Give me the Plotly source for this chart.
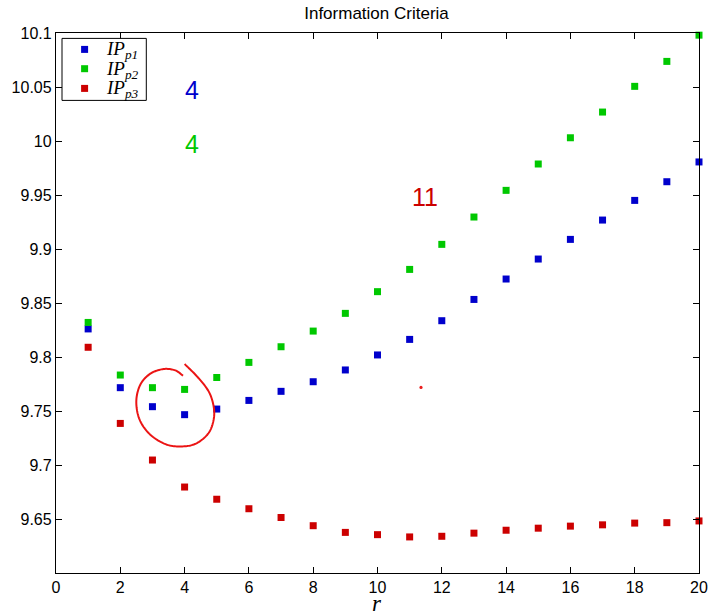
import numpy as np
import plotly.graph_objects as go

r = list(range(1, 21))
ip_p1 = [9.826, 9.7716, 9.754, 9.7466, 9.7518, 9.7598, 9.7682, 9.7771, 9.788, 9.8019,
         9.8163, 9.8336, 9.8533, 9.8722, 9.8907, 9.9089, 9.9268, 9.945, 9.9623, 9.9806]
ip_p2 = [9.832, 9.7833, 9.7716, 9.770, 9.781, 9.795, 9.8095, 9.824, 9.8404, 9.8605,
         9.8811, 9.9043, 9.9296, 9.9543, 9.9787, 10.003, 10.0268, 10.0506, 10.0737, 10.098]
ip_p3 = [9.809, 9.7385, 9.7046, 9.6796, 9.6683, 9.6595, 9.6514, 9.6438, 9.6376, 9.6355,
         9.6334, 9.634, 9.6369, 9.6396, 9.6415, 9.6434, 9.6446, 9.6462, 9.6466, 9.6482]

names = ["<i>IP<sub>p1</sub></i>", "<i>IP<sub>p2</sub></i>", "<i>IP<sub>p3</sub></i>"]
colors = ["#0000cc", "#00c800", "#cc0000"]

x_ticks = list(range(0, 21, 2))
y_ticks = [9.6, 9.65, 9.7, 9.75, 9.8, 9.85, 9.9, 9.95, 10.0, 10.05, 10.1]
y_ticktext = ["", "9.65", "9.7", "9.75", "9.8", "9.85", "9.9", "9.95", "10", "10.05", "10.1"]

# hand-drawn loop (screen-pixel points approximated from the reference)
loop_px = [(403, 103), (440, 140), (475, 185), (490, 230), (490, 270), (475, 310), (440, 340),
           (400, 350), (350, 345), (300, 315), (268, 270), (258, 215), (270, 165), (300, 132),
           (340, 118), (375, 122), (398, 138)]

W, H = 712, 615
SX0, SX1, SY0, SY1 = 55.7, 698.7, 33.3, 573.3
ML, MT = SX0, SY0
MR, MB = W - SX1, H - SY1
XR = (0, 20)
YR = (9.6, 10.1)
pw, ph = SX1 - SX0, SY1 - SY0


def px2data(px, py):
    x = XR[0] + (px - SX0) / pw * (XR[1] - XR[0])
    y = YR[1] - (py - SY0) / ph * (YR[1] - YR[0])
    return x, y


def px2paper(px, py):
    return (px - SX0) / pw, 1 - (py - SY0) / ph


def catmull(pts, n=12):
    pts = np.array(pts, float)
    P = np.vstack([pts[0], pts, pts[-1]])
    out = []
    for i in range(1, len(P) - 2):
        p0, p1, p2, p3 = P[i - 1], P[i], P[i + 1], P[i + 2]
        for t in np.linspace(0, 1, n, endpoint=False):
            t2, t3 = t * t, t * t * t
            out.append(0.5 * ((2 * p1) + (-p0 + p2) * t + (2 * p0 - 5 * p1 + 4 * p2 - p3) * t2
                              + (-p0 + 3 * p1 - 3 * p2 + p3) * t3))
    out.append(P[-2])
    return out


fig = go.Figure()
for name, vals, c in zip(names, [ip_p1, ip_p2, ip_p3], colors):
    fig.add_trace(go.Scatter(x=r, y=vals, mode="markers", name=name,
                             marker=dict(symbol="square", size=7, color=c),
                             cliponaxis=False, showlegend=False))

pts = [(50 + zx / 3, 330 + zy / 3) for zx, zy in loop_px]
dense = catmull(pts)
path = ""
for i, (px, py) in enumerate(dense):
    x, y = px2data(px, py)
    path += ("M" if i == 0 else "L") + f"{x:.4f},{y:.5f} "
fig.add_shape(type="path", path=path, xref="x", yref="y",
              line=dict(color="rgb(235,20,20)", width=2))

# small red speck
dx, dy = px2data(420.7, 387.7)
fig.add_shape(type="circle", xref="x", yref="y", xsizemode="pixel", ysizemode="pixel",
              xanchor=dx, yanchor=dy, x0=-1.6, x1=1.6, y0=-1.6, y1=1.6,
              fillcolor="rgb(235,30,30)", line=dict(width=0))

sans = "Liberation Sans, Arial, sans-serif"
serif = "Liberation Serif, Times New Roman, serif"
for txt, (px, py), c in [("4", (192, 88), colors[0]), ("4", (192, 142.5), colors[1]),
                         ("11", (424.2, 195), colors[2])]:
    x, y = px2data(px, py)
    fig.add_annotation(x=x, y=y, xref="x", yref="y", text=txt, showarrow=False,
                       font=dict(family=sans, size=25, color=c), yshift=-2)

# legend box (drawn manually to match the reference spacing)
bx0, by0 = px2paper(61.7, 38.7)
bx1, by1 = px2paper(146, 100.7)
fig.add_shape(type="rect", xref="paper", yref="paper", x0=bx0, x1=bx1, y0=by1, y1=by0,
              line=dict(color="black", width=1), fillcolor="white", layer="above")
for name, c, ry in zip(names, colors, [49.7, 69.0, 88.7]):
    mx, my = px2paper(84.3, ry)
    fig.add_shape(type="rect", xref="paper", yref="paper", xsizemode="pixel", ysizemode="pixel",
                  xanchor=mx, yanchor=my, x0=-3.5, x1=3.5, y0=-3.5, y1=3.5,
                  fillcolor=c, line=dict(width=0), layer="above")
    tx, ty = px2paper(103.5, ry + 1)
    fig.add_annotation(x=tx, y=ty, xref="paper", yref="paper", text=name, showarrow=False,
                       xanchor="left", yanchor="middle",
                       font=dict(family=serif, size=19, color="black"))

ax, ay = px2paper(377, 604)
fig.add_annotation(x=ax, y=ay, xref="paper", yref="paper", text="<i>r</i>", showarrow=False,
                   yanchor="middle", font=dict(family=serif, size=23, color="black"))

axis_common = dict(showline=True, linecolor="black", linewidth=1.3, mirror="ticks",
                   ticks="inside", ticklen=6, tickcolor="black", tickwidth=1,
                   showgrid=False, zeroline=False,
                   tickfont=dict(family=sans, size=16, color="black"))

fig.update_layout(
    width=W, height=H,
    margin=dict(l=ML, r=MR, t=MT, b=MB, autoexpand=False),
    paper_bgcolor="white", plot_bgcolor="white",
    title=dict(text="Information Criteria", x=376.5 / W, xref="container",
               y=1 - 13.5 / H, yref="container", yanchor="middle", xanchor="center",
               font=dict(family=sans, size=17, color="black")),
    xaxis=dict(range=list(XR), tickvals=x_ticks, **axis_common),
    yaxis=dict(range=list(YR), tickvals=y_ticks, ticktext=y_ticktext, **axis_common),
    showlegend=False,
)

fig.write_html("out.html", config={"displayModeBar": False},
               post_script="document.body.style.margin='0px';document.body.style.overflow='hidden';")
